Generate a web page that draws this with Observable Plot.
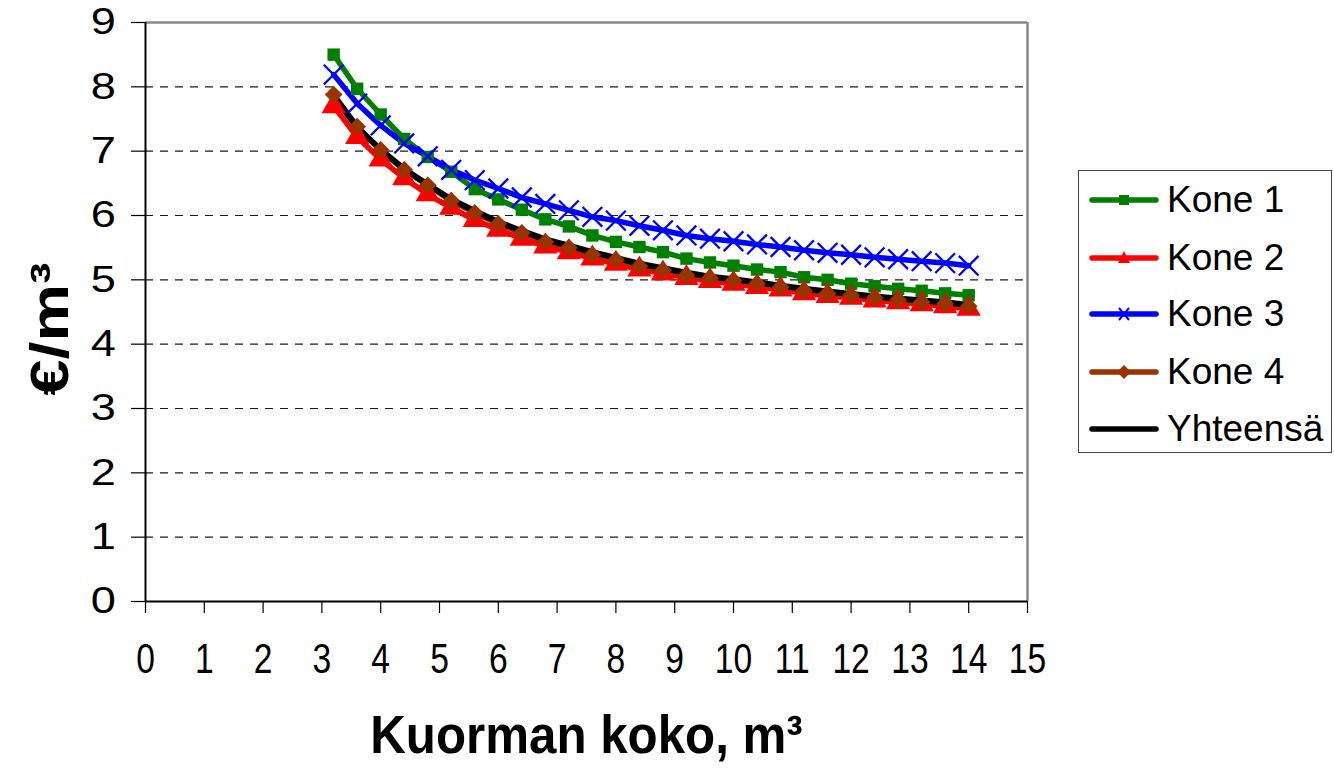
<!DOCTYPE html>
<html><head><meta charset="utf-8">
<script src="https://cdn.jsdelivr.net/npm/d3@7"></script>
<script src="https://cdn.jsdelivr.net/npm/@observablehq/plot@0.6"></script>
<style>
body{margin:0;background:#fff;font-family:"Liberation Sans",Arial,sans-serif;}
#wrap{position:relative;width:1334px;height:768px;overflow:hidden}
#wrap > svg{position:absolute;left:0;top:0}
#legend{position:absolute;left:1078px;top:170px;width:254px;height:283px;border:1.5px solid #444;box-sizing:border-box;background:#fff}
.item{position:absolute;left:8px;height:44px;display:flex;align-items:center}
.item span{font-size:37px;margin-left:6px;color:#000;line-height:44px}
</style></head><body><div id="wrap"><div id="legend"></div></div>
<script>
const xValues = [3.2,3.6,4.0,4.4,4.8,5.2,5.6,6.0,6.4,6.8,7.2,7.6,8.0,8.4,8.8,9.2,9.6,10.0,10.4,10.8,11.2,11.6,12.0,12.4,12.8,13.2,13.6,14.0];
const kone1 = [8.50,7.97,7.57,7.19,6.91,6.68,6.41,6.25,6.09,5.94,5.83,5.69,5.59,5.51,5.43,5.33,5.27,5.22,5.16,5.12,5.04,5.00,4.94,4.90,4.86,4.83,4.79,4.76];
const kone2 = [7.70,7.22,6.87,6.58,6.33,6.12,5.93,5.78,5.64,5.52,5.43,5.33,5.25,5.16,5.10,5.03,4.98,4.94,4.89,4.85,4.79,4.75,4.72,4.68,4.65,4.62,4.59,4.55];
const kone3 = [8.19,7.74,7.40,7.12,6.92,6.71,6.55,6.42,6.28,6.18,6.08,5.98,5.92,5.84,5.77,5.69,5.64,5.60,5.55,5.51,5.46,5.42,5.39,5.35,5.32,5.29,5.26,5.22];
const kone4 = [7.88,7.38,7.02,6.71,6.47,6.23,6.04,5.87,5.73,5.59,5.50,5.39,5.31,5.21,5.15,5.07,5.03,4.99,4.94,4.89,4.83,4.79,4.76,4.72,4.69,4.65,4.63,4.59];
const yhteensa = [7.86,7.37,7.02,6.72,6.48,6.25,6.07,5.90,5.76,5.63,5.53,5.43,5.34,5.25,5.18,5.11,5.05,5.01,4.96,4.91,4.86,4.82,4.78,4.74,4.71,4.68,4.65,4.61];
const seriesNames = ["Kone 1","Kone 2","Kone 3","Kone 4","Yhteensä"];
const xTicks = [0,1,2,3,4,5,6,7,8,9,10,11,12,13,14,15];
const yTicks = [0,1,2,3,4,5,6,7,8,9];
const gridValues = [1,2,3,4,5,6,7,8];
const xTitle = "Kuorman koko, m³";
const yTitle = "€/m³";

const colors = {"Kone 1":"#008000","Kone 2":"#FF0000","Kone 3":"#0000FF","Kone 4":"#993300","Yhteensä":"#000000"};
const seriesValues = {"Kone 1":kone1,"Kone 2":kone2,"Kone 3":kone3,"Kone 4":kone4,"Yhteensä":yhteensa};
const rows = name => xValues.map((x,i)=>({x, y: seriesValues[name][i], s: name}));

const lineOpts = name => ({x:"x", y:"y", stroke: colors[name], strokeWidth: 5.5, strokeLinejoin:"round", strokeLinecap:"round"});

const chart = Plot.plot({
  width: 1334, height: 768,
  marginLeft: 145, marginRight: 307, marginTop: 22, marginBottom: 167,
  style: {fontFamily: '"Liberation Sans", Arial, sans-serif', background: "#fff", overflow: "visible"},
  x: {domain: [0, 15]},
  y: {domain: [0, 9]},
  marks: [
    Plot.gridY(gridValues, {stroke: "#000", strokeOpacity: 0.9, strokeWidth: 1.2, strokeDasharray: "8,7"}),
    Plot.ruleY([9], {stroke: "#888", strokeWidth: 2.5}),
    Plot.ruleX([15], {stroke: "#888", strokeWidth: 2.5}),
    Plot.axisY({ticks: yTicks, tickSize: 14, tickPadding: 18, fontSize: 37, label: null, tickFormat: d => String(d), strokeWidth: 1.2, ariaLabel: "y-axis"}),
    Plot.axisX({ticks: xTicks, tickSize: 12, tickPadding: 30, fontSize: 42, label: null, tickFormat: d => String(d), strokeWidth: 1.2, ariaLabel: "x-axis"}),
    Plot.ruleY([0], {stroke: "#000", strokeWidth: 2}),
    Plot.ruleX([0], {stroke: "#000", strokeWidth: 2}),
    Plot.line(rows("Kone 1"), lineOpts("Kone 1")),
    Plot.line(rows("Kone 2"), lineOpts("Kone 2")),
    Plot.line(rows("Kone 3"), lineOpts("Kone 3")),
    Plot.line(rows("Kone 4"), lineOpts("Kone 4")),
    Plot.line(rows("Yhteensä"), {...lineOpts("Yhteensä"), strokeWidth: 6}),
    Plot.dot(rows("Kone 1"), {x:"x", y:"y", symbol:"square", fill: colors["Kone 1"], r: 7}),
    Plot.dot(rows("Kone 2"), {x:"x", y:"y", symbol:"triangle", fill: colors["Kone 2"], r: 9}),
    Plot.dot(rows("Kone 3"), {x:"x", y:"y", symbol:"times", stroke: colors["Kone 3"], strokeWidth: 2.3, fill: "none", r: 9}),
    Plot.dot(rows("Kone 4"), {x:"x", y:"y", symbol:"diamond2", fill: colors["Kone 4"], r: 8}),
    Plot.text([xTitle], {frameAnchor: "bottom", dy: 135, textAnchor: "middle", lineAnchor: "middle", fontSize: 53, fontWeight: "bold", fill: "#000"}),
    Plot.text([yTitle], {frameAnchor: "left", dx: -94, dy: 17, rotate: -90, textAnchor: "middle", lineAnchor: "middle", fontSize: 53, fontWeight: "bold", fill: "#000"})
  ]
});
document.getElementById("wrap").prepend(chart);

function squish(sel, sx, sy) {
  sel.each(function(){
    const b = this.getBBox();
    const cx = b.x + b.width/2, cy = b.y + b.height/2;
    const t = this.getAttribute("transform") || "";
    this.setAttribute("transform", `${t} translate(${cx},${cy}) scale(${sx},${sy}) translate(${-cx},${-cy})`);
  });
}
const svg = d3.select(chart);
squish(svg.selectAll('g[aria-label="x-axis"] text, g[aria-label="x-axis tick label"] text'), 0.8, 1);
squish(svg.selectAll('g[aria-label="y-axis"] text, g[aria-label="y-axis tick label"] text'), 1.22, 1);
squish(svg.selectAll("text").filter(function(){ return this.textContent === xTitle; }), 0.93, 1);
squish(svg.selectAll("text").filter(function(){ return this.textContent === yTitle; }), 1.22, 1);

// legend
const legend = d3.select("#legend");
const centers = [29, 87, 143, 201, 258];
const markerFor = {
  "Kone 1": g => g.append("rect").attr("x", 30).attr("y", 5).attr("width", 10).attr("height", 10).attr("fill", colors["Kone 1"]),
  "Kone 2": g => g.append("path").attr("d", "M35,3 L41,15 L29,15 Z").attr("fill", colors["Kone 2"]),
  "Kone 3": g => g.append("path").attr("d", "M30,4 L40,16 M40,4 L30,16").attr("stroke", colors["Kone 3"]).attr("stroke-width", 2),
  "Kone 4": g => g.append("path").attr("d", "M35,3 L42,10 L35,17 L28,10 Z").attr("fill", colors["Kone 4"]),
  "Yhteensä": g => g
};
seriesNames.forEach((name, i) => {
  const item = legend.append("div").attr("class", "item").style("top", (centers[i] - 22) + "px");
  const s = item.append("svg").attr("width", 74).attr("height", 20);
  s.append("line").attr("x1", 5).attr("x2", 69).attr("y1", 10).attr("y2", 10)
    .attr("stroke", colors[name]).attr("stroke-width", 5.5).attr("stroke-linecap", "round");
  const g = s.append("g").attr("transform", "translate(2,0)");
  markerFor[name](g);
  item.append("span").text(name);
});
</script>
</body></html>
